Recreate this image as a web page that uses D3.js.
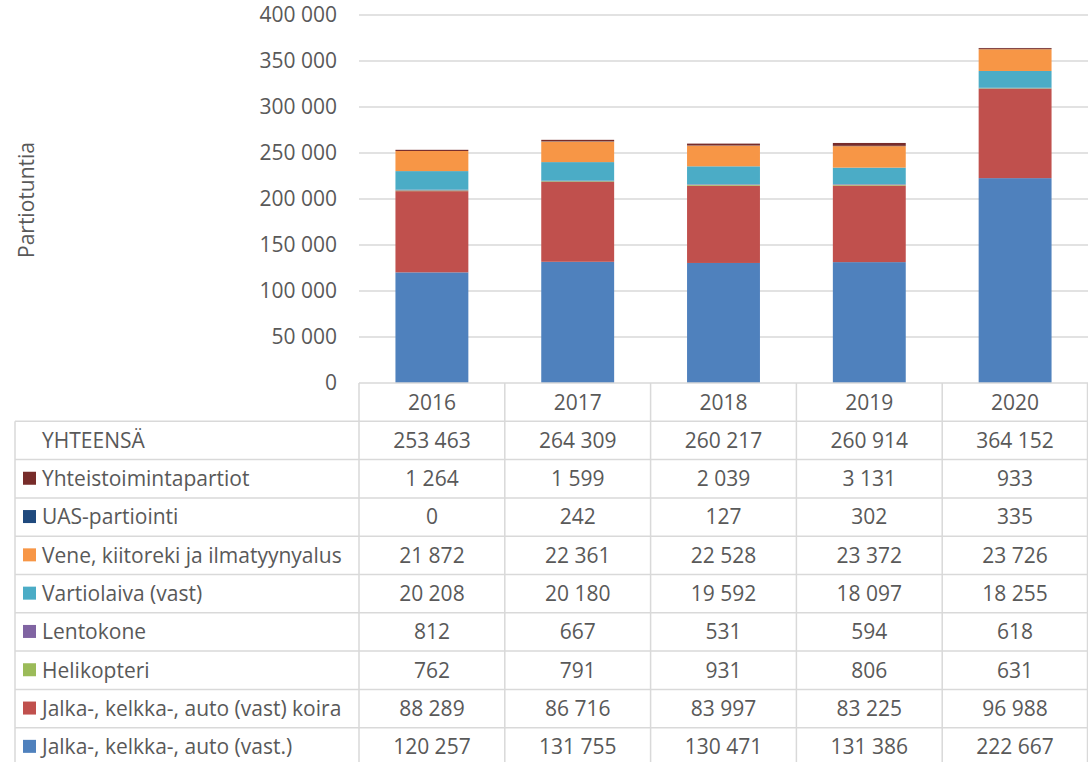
<!DOCTYPE html>
<html>
<head>
<meta charset="utf-8">
<script src="https://cdn.jsdelivr.net/npm/d3@7"></script>
<style>
  body { margin: 0; background: #fff; }
  svg text { font-family: "Open Sans", "Liberation Sans", sans-serif; fill: #595959; }
</style>
</head>
<body>
<svg id="chart" width="1088" height="762"></svg>
<script>
// years on the x axis
var years = ["2016", "2017", "2018", "2019", "2020"];

// series, bottom of the stack first
var series = ["Jalka-, kelkka-, auto (vast.)", "Jalka-, kelkka-, auto (vast) koira", "Helikopteri",
              "Lentokone", "Vartiolaiva (vast)", "Vene, kiitoreki ja ilmatyynyalus",
              "UAS-partiointi", "Yhteistoimintapartiot"];
var colors = ["#4f81bd", "#c0504d", "#9bbb59", "#8064a2", "#4bacc6", "#f79646", "#1f497d", "#772c2a"];

var jalka      = [120257, 131755, 130471, 131386, 222667];
var koira      = [88289, 86716, 83997, 83225, 96988];
var heli       = [762, 791, 931, 806, 631];
var lento      = [812, 667, 531, 594, 618];
var vartio     = [20208, 20180, 19592, 18097, 18255];
var vene       = [21872, 22361, 22528, 23372, 23726];
var uas        = [0, 242, 127, 302, 335];
var yhteis     = [1264, 1599, 2039, 3131, 933];
var yhteensa   = [253463, 264309, 260217, 260914, 364152];

var yTicks = [0, 50000, 100000, 150000, 200000, 250000, 300000, 350000, 400000];

var values = [jalka, koira, heli, lento, vartio, vene, uas, yhteis];

var svg = d3.select("#chart");
var plotLeft = 359, plotRight = 1088, plotTop = 15, plotBottom = 383;
var rowH = 38.3;
var tableLeft = 15;
var fs = "21px";

function fmt(v){
	return d3.format(",")(v).replace(/,/g, " ");
}

var x = d3.scaleBand().domain(years).range([plotLeft, plotRight]).paddingInner(0.5).paddingOuter(0.25);
var xCol = d3.scaleBand().domain(years).range([plotLeft, plotRight]);
var y = d3.scaleLinear().domain([0, 400000]).range([plotBottom, plotTop]);

// gridlines
svg.append("g").selectAll("line").data(yTicks.slice(1)).enter().append("line")
	.attr("x1", plotLeft).attr("x2", plotRight)
	.attr("y1", function(d){return y(d);}).attr("y2", function(d){return y(d);})
	.attr("stroke", "#d9d9d9").attr("stroke-width", 1.3);

// y tick labels
svg.append("g").selectAll("text").data(yTicks).enter().append("text")
	.attr("x", 337).attr("y", function(d){return y(d);})
	.attr("dy", "0.35em").attr("text-anchor", "end")
	.style("font-size", fs)
	.text(function(d){return fmt(d);});

svg.append("text")
	.attr("transform", "translate(34,200) rotate(-90)")
	.attr("text-anchor", "middle")
	.style("font-size", fs)
	.text("Partiotuntia");

// stacked bars
var table = years.map(function(yr, i){
	var row = {year: yr};
	series.forEach(function(s, j){ row[s] = values[j][i]; });
	return row;
});
var stack = d3.stack().keys(series)(table);

svg.append("g").selectAll("g").data(stack).enter().append("g")
	.attr("fill", function(d, i){return colors[i];})
	.selectAll("rect").data(function(d){return d;}).enter().append("rect")
	.attr("x", function(d){return x(d.data.year);})
	.attr("width", x.bandwidth())
	.attr("y", function(d){return y(d[1]);})
	.attr("height", function(d){return y(d[0]) - y(d[1]);});

// data table
var rows = [{name: "YHTEENSÄ", vals: yhteensa, color: null}];
for (var j = series.length - 1; j >= 0; j--) {
	rows.push({name: series[j], vals: values[j], color: colors[j]});
}

var grid = svg.append("g").attr("stroke", "#d9d9d9").attr("stroke-width", 1.5);
var tableBottom = plotBottom + rowH * (rows.length + 1);
// horizontal lines
for (var r = 0; r <= rows.length + 1; r++) {
	var yy = plotBottom + r * rowH;
	grid.append("line").attr("x1", r == 0 ? plotLeft : tableLeft).attr("x2", plotRight)
		.attr("y1", yy).attr("y2", yy);
}
// vertical lines
grid.append("line").attr("x1", tableLeft).attr("x2", tableLeft)
	.attr("y1", plotBottom + rowH).attr("y2", tableBottom);
years.forEach(function(yr){
	var xx = xCol(yr);
	grid.append("line").attr("x1", xx).attr("x2", xx).attr("y1", plotBottom).attr("y2", tableBottom);
});
grid.append("line").attr("x1", plotRight - 0.5).attr("x2", plotRight - 0.5).attr("y1", plotBottom).attr("y2", tableBottom);

// year header
svg.append("g").selectAll("text").data(years).enter().append("text")
	.attr("x", function(d){return xCol(d) + xCol.bandwidth() / 2;})
	.attr("y", plotBottom + rowH / 2).attr("dy", "0.35em")
	.attr("text-anchor", "middle").style("font-size", fs)
	.text(function(d){return d;});

rows.forEach(function(row, r){
	var cy = plotBottom + (r + 1) * rowH + rowH / 2;
	if (row.color) {
		svg.append("rect").attr("x", 23).attr("y", cy - 7).attr("width", 13).attr("height", 13)
			.attr("fill", row.color);
	}
	svg.append("text").attr("x", 42).attr("y", cy).attr("dy", "0.35em")
		.style("font-size", fs).text(row.name);
	years.forEach(function(yr, i){
		svg.append("text")
			.attr("x", xCol(yr) + xCol.bandwidth() / 2).attr("y", cy).attr("dy", "0.35em")
			.attr("text-anchor", "middle").style("font-size", fs)
			.text(fmt(row.vals[i]));
	});
});
</script>
</body>
</html>
